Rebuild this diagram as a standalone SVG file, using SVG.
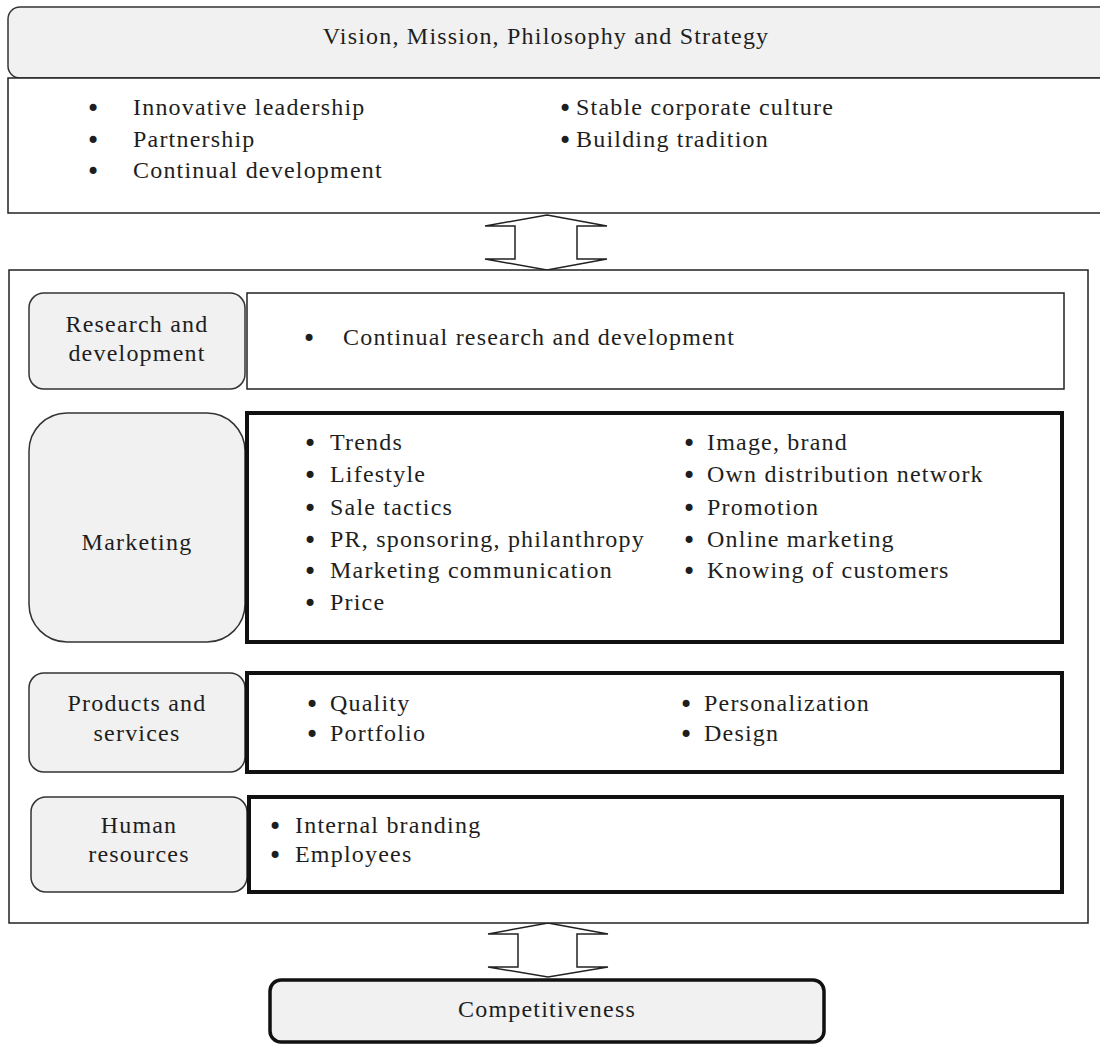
<svg xmlns="http://www.w3.org/2000/svg" width="1100" height="1046" viewBox="0 0 1100 1046">
<style>
text{font-family:"Liberation Serif","Times New Roman",serif;font-size:24px;fill:#1e1e1e;letter-spacing:1.2px}
text.b{font-family:"DejaVu Sans",sans-serif;font-size:24px;letter-spacing:0}
.c{text-anchor:middle}
.lab{fill:#f1f1f1;stroke:#333;stroke-width:1.5}
.thin{fill:#fff;stroke:#222;stroke-width:1.5}
.thick{fill:#fff;stroke:#111;stroke-width:4}
.arr{fill:#fff;stroke:#222;stroke-width:1.5;stroke-linejoin:miter}
</style>
<rect width="1100" height="1046" fill="#fff"/>

<g id="header">
<rect x="8" y="7" width="1110" height="71" rx="12" class="lab"/>
<text x="546" y="44" class="c">Vision, Mission, Philosophy and Strategy</text>
</g>

<g id="values">
<rect x="8" y="78" width="1110" height="135" class="thin"/>
<text class="b" x="86" y="117">•</text><text x="133" y="115">Innovative leadership</text>
<text class="b" x="86" y="149">•</text><text x="133" y="147">Partnership</text>
<text class="b" x="86" y="180">•</text><text x="133" y="178">Continual development</text>
<text class="b" x="558" y="117">•</text><text x="576" y="115">Stable corporate culture</text>
<text class="b" x="558" y="149">•</text><text x="576" y="147">Building tradition</text>
</g>

<g id="connectors">
<polygon class="arr" points="547,215 607,226 577,226 577,259 607,259 547,270 485,259 515,259 515,226 485,226"/>
<polygon class="arr" points="548,923 608,934 577,934 577,967 608,967 548,977 488,967 518,967 518,934 488,934"/>
</g>

<g id="frame">
<rect x="9" y="270" width="1079" height="653" class="thin"/>
</g>

<g id="rd">
<rect x="29" y="293" width="216" height="96" rx="15" class="lab"/>
<text x="137" y="332" class="c">Research and</text>
<text x="137" y="361" class="c">development</text>
<rect x="247" y="293" width="817" height="96" class="thin"/>
<text class="b" x="302" y="347">•</text><text x="343" y="345">Continual research and development</text>
</g>

<g id="marketing">
<rect x="29" y="413" width="216" height="229" rx="38" class="lab"/>
<text x="137" y="550" class="c">Marketing</text>
<rect x="247" y="413" width="815" height="229" class="thick"/>
<text class="b" x="303" y="452">•</text><text x="330" y="450">Trends</text>
<text class="b" x="303" y="484">•</text><text x="330" y="482">Lifestyle</text>
<text class="b" x="303" y="517">•</text><text x="330" y="515">Sale tactics</text>
<text class="b" x="303" y="549">•</text><text x="330" y="547">PR, sponsoring, philanthropy</text>
<text class="b" x="303" y="580">•</text><text x="330" y="578">Marketing communication</text>
<text class="b" x="303" y="612">•</text><text x="330" y="610">Price</text>
<text class="b" x="682" y="452">•</text><text x="707" y="450">Image, brand</text>
<text class="b" x="682" y="484">•</text><text x="707" y="482">Own distribution network</text>
<text class="b" x="682" y="517">•</text><text x="707" y="515">Promotion</text>
<text class="b" x="682" y="549">•</text><text x="707" y="547">Online marketing</text>
<text class="b" x="682" y="580">•</text><text x="707" y="578">Knowing of customers</text>
</g>

<g id="products">
<rect x="29" y="673" width="216" height="99" rx="15" class="lab"/>
<text x="137" y="711" class="c">Products and</text>
<text x="137" y="741" class="c">services</text>
<rect x="247" y="673" width="815" height="99" class="thick"/>
<text class="b" x="305" y="713">•</text><text x="330" y="711">Quality</text>
<text class="b" x="305" y="743">•</text><text x="330" y="741">Portfolio</text>
<text class="b" x="679" y="713">•</text><text x="704" y="711">Personalization</text>
<text class="b" x="679" y="743">•</text><text x="704" y="741">Design</text>
</g>

<g id="hr">
<rect x="31" y="797" width="216" height="95" rx="15" class="lab"/>
<text x="139" y="833" class="c">Human</text>
<text x="139" y="862" class="c">resources</text>
<rect x="249" y="797" width="813" height="95" class="thick"/>
<text class="b" x="268" y="835">•</text><text x="295" y="833">Internal branding</text>
<text class="b" x="268" y="864">•</text><text x="295" y="862">Employees</text>
</g>

<g id="competitiveness">
<rect x="270" y="980" width="554" height="62" rx="11" fill="#f1f1f1" stroke="#111" stroke-width="3.5"/>
<text x="547" y="1017" class="c">Competitiveness</text>
</g>
</svg>
